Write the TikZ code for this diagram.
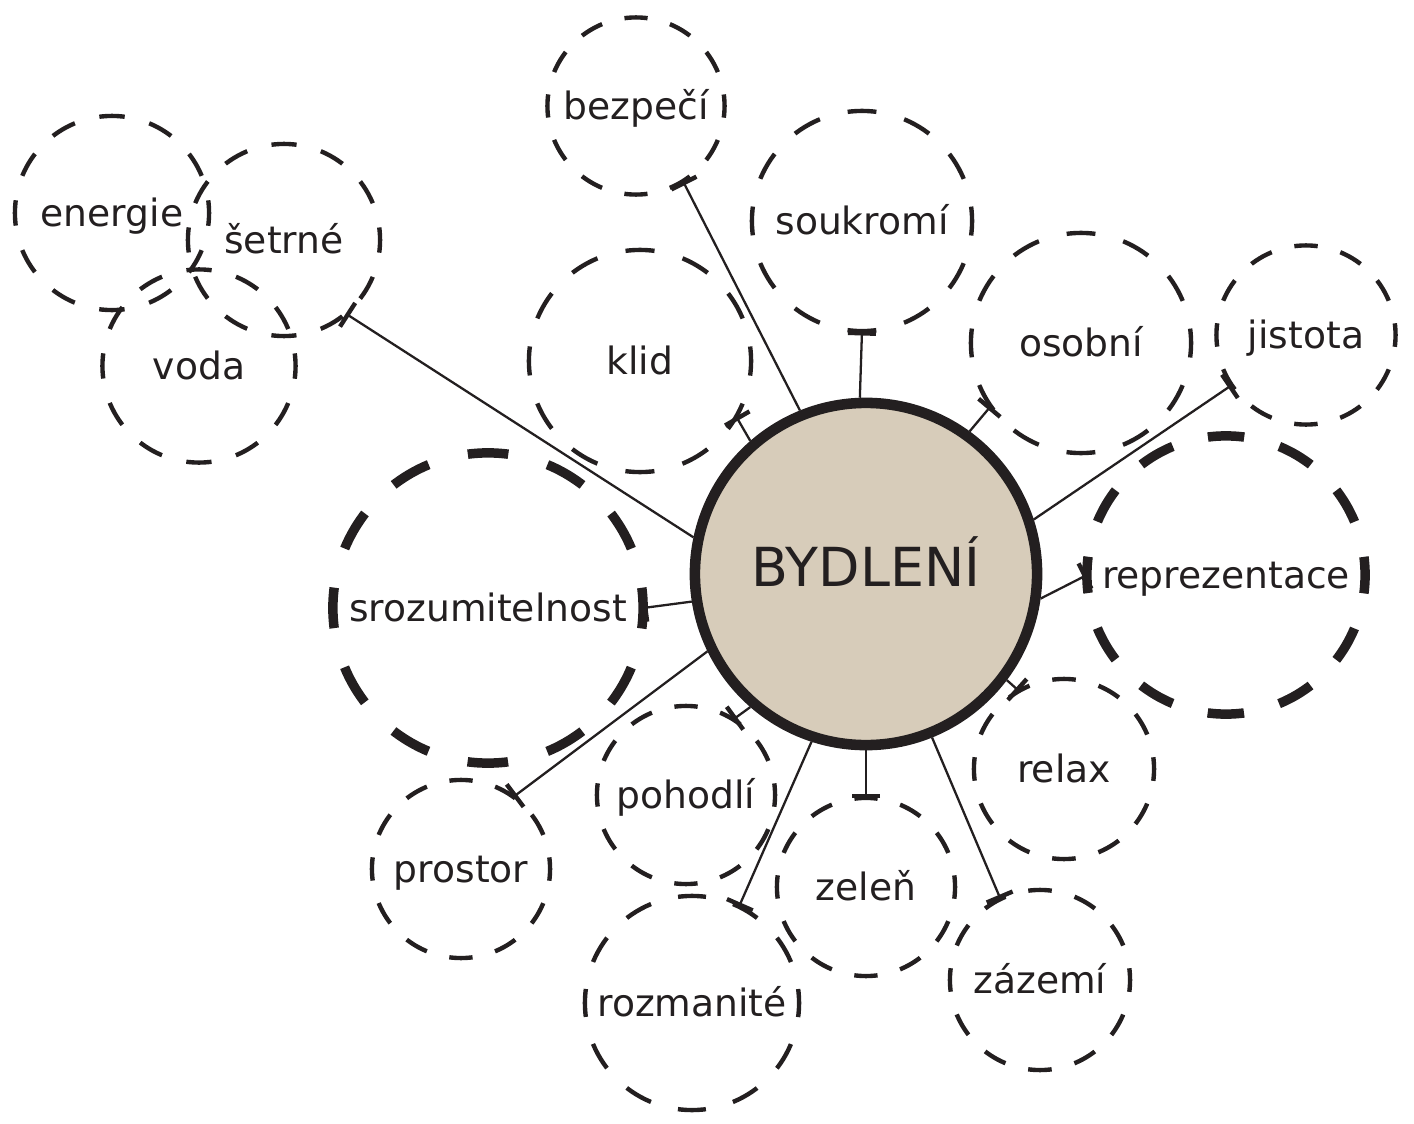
\documentclass[tikz,border=0pt]{standalone}
\usepackage{fontspec}
\setmainfont{DejaVu Sans}
\usetikzlibrary{arrows.meta}

\definecolor{ink}{HTML}{231F20}
\definecolor{sand}{HTML}{D7CCBA}

\begin{document}
\begin{tikzpicture}[x=0.01cm,y=-0.01cm,every node/.style={text=ink,font=\fontsize{10.7}{12}\selectfont,text height=0.76em,text depth=0pt}]

	\tikzset{place/.style={circle,draw=ink,line width=1.25pt,inner sep=0pt,outer sep=0pt,minimum size=#1*0.02cm,
		dash pattern=on #1*0.02618mm off #1*0.02618mm,dash phase=#1*0.01309mm}}
	\tikzset{thick place/.style={place=#1,line width=2.7pt}}
	\tikzstyle{hub}=[circle,draw=ink,line width=3pt,fill=sand,minimum size=3.42cm,font=\fontsize{15.3}{18}\selectfont,text height=0.73em]
	\tikzstyle{link}=[draw=ink,line width=0.65pt,-{Bar[width=8pt,line width=1.25pt]}]

	\useasboundingbox (0,0) rectangle (1414,1124);

	% centre:
	\node [hub] at (866,574) (byd) {BYDLENÍ};

	% top left group:
	\node [place=97] at (112,213) (energ) {energie};
	\node [place=96] at (284,240) (setr) {šetrné};
	\node [place=96.5] at (199,366) (voda) {voda};

	% upper ring:
	\node [place=88.5] at (636,106) (bezp) {bezpečí};
	\node [place=111] at (640,361) (klid) {klid};
	\node [place=110] at (862,221) (souk) {soukromí};
	\node [place=110] at (1081,343) (osob) {osobní};
	\node [place=89.5] at (1306,335) (jist) {jistota};

	% sides:
	\node [thick place=155] at (488,608) (sroz) {srozumitelnost};
	\node [thick place=139] at (1226,575) (repr) {reprezentace};

	% lower ring:
	\node [place=90] at (1064,769) (relax) {relax};
	\node [place=89] at (686,795) (pohod) {pohodlí};
	\node [place=89] at (461,869) (prost) {prostor};
	\node [place=89] at (866,887) (zelen) {zeleň};
	\node [place=107] at (692,1003) (rozm) {rozmanité};
	\node [place=90] at (1040,980) (zazem) {zázemí};

	\draw[link] (byd.168) -- (setr.-50);
	\draw[link] (byd.112) -- (bezp.-58);
	\draw[link] (byd.92) -- (souk.-90);
	\draw[link] (byd.131) -- (klid.-30);
	\draw[link] (byd.54) -- (osob.-145);
	\draw[link] (byd.18) -- (jist.-146);
	\draw[link] (byd.-8) -- (repr.180);
	\draw[link] (byd.-171) -- (sroz.0);
	\draw[link] (byd.-154) -- (prost.54);
	\draw[link] (byd.-131) -- (pohod.58);
	\draw[link] (byd.-37) -- (relax.120);
	\draw[link] (byd.-108) -- (rozm.64);
	\draw[link] (byd.-90) -- (zelen.90);
	\draw[link] (byd.-68) -- (zazem.116);

\end{tikzpicture}
\end{document}
